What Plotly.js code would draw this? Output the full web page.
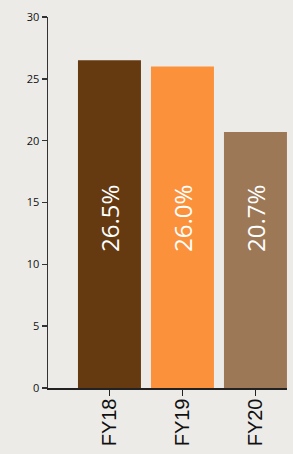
<!DOCTYPE html>
<html><head><meta charset="utf-8">
<script src="https://cdn.plot.ly/plotly-3.0.1.min.js"></script>
<style>html,body{margin:0;padding:0;background:#ecebe8;}#chart{width:293px;height:454px;}</style>
</head><body><div id="chart"></div>
<script>
const categories = ["FY18", "FY19", "FY20"];
const values = [26.5, 26.0, 20.7];
const labels = ["26.5%", "26.0%", "20.7%"];
const colors = ["#653a11", "#fb923b", "#9c7856"];
const labelY = [13.7, 13.7, 13.7];

const trace = {
  type: "bar", x: categories, y: values,
  marker: {color: colors}, hoverinfo: "none", showlegend: false
};
const annotations = categories.map((c, i) => ({
  x: c, y: labelY[i], xref: "x", yref: "y", text: labels[i], showarrow: false,
  textangle: -90, font: {family: "Open Sans", size: 24, color: "#ffffff"}
}));
const layout = {
  width: 293, height: 454,
  margin: {l: 48, r: 6, t: 17, b: 66},
  paper_bgcolor: "#ecebe8", plot_bgcolor: "rgba(0,0,0,0)",
  bargap: 0.137,
  xaxis: {
    range: [-0.842, 2.432], showgrid: false, zeroline: false,
    showline: true, linecolor: "#222", linewidth: 1.5,
    ticks: "outside", ticklen: 6, tickcolor: "#222", tickwidth: 1.5,
    tickangle: -90, ticklabelstandoff: -5,
    tickfont: {family: "Liberation Sans", size: 20, color: "#111"}
  },
  yaxis: {
    range: [0, 30], dtick: 5, showgrid: false, zeroline: false,
    showline: true, linecolor: "#333", linewidth: 1.5,
    ticks: "outside", ticklen: 5, tickcolor: "#333", tickwidth: 1.5,
    tickfont: {family: "Open Sans", size: 11, color: "#111"}
  },
  annotations: annotations
};
Plotly.newPlot("chart", [trace], layout, {displayModeBar: false, staticPlot: true});
</script></body></html>
